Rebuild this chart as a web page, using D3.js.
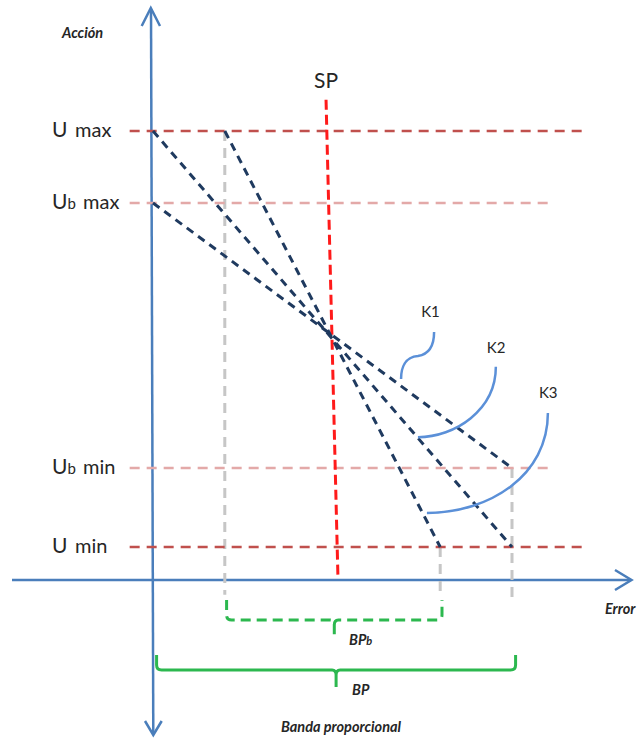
<!DOCTYPE html>
<html>
<head>
<meta charset="utf-8">
<script src="https://cdn.jsdelivr.net/npm/d3@7"></script>
<style>
  html, body { margin: 0; padding: 0; background: #fff; }
  svg { display: block; }
  text { font-family: Lato, "Open Sans", sans-serif; fill: #262626; }
</style>
</head>
<body>
<svg id="chart" width="638" height="739"></svg>
<script>
// ---- Data (error in % of band, action in % of output range) ----
const levelNames   = ["U max", "Ub max", "Ub min", "U min"];
const levelValues  = [100, 82.7, 19, 0];
const levelRightEnd = [120.3, 111.4, 111.4, 120.3];
const levelStrong  = [true, false, false, true];

// three proportional lines, start / end points [error, action]
const lineStarts = [[20, 100], [0, 100], [0, 82.7]];
const lineEnds   = [[80, 0], [100, 0], [100, 19]];

// vertical drop lines down to the error axis [error, action top, action bottom]
const drops = [[20, 100, -11.5], [80, 0, -11.5], [100, 19, -12.7]];

// set point line [error, action] at both ends
const spTop    = [48.2, 107.5];
const spBottom = [51.5, -6.7];

// proportional bands (error range)
const bandNarrow = [20.5, 80.5];
const bandWide   = [1, 101];

// gain annotations: bezier control points [error, action]
const kNames = ["K1", "K2", "K3"];
const k1Curve = [[78.3, 51.7], [78.3, 47.4], [75.8, 46.2], [73.8, 45.9], [70.2, 45.7], [69.1, 43.0], [69.1, 40.4]];
const k2Curve = [[95.5, 43.3], [95.5, 32.9], [84.1, 26.4], [73.8, 26.4]];
const k3Curve = [[110.0, 32.2], [110.0, 17.3], [93.9, 8.2], [76.3, 8.2]];
const kLabelAt = [[74.7, 55.3], [93.0, 46.6], [107.5, 35.8]];

// ---- Scales ----
const x = d3.scaleLinear().domain([0, 100]).range([153, 512]);
const y = d3.scaleLinear().domain([0, 100]).range([547, 131]);

const svg = d3.select("#chart");

const C = {
  axis: "#4a7ebb",
  levelStrong: "#c0504d",
  levelLight: "#e3a9a8",
  navy: "#1f3a5f",
  sp: "#ff1a1a",
  gray: "#c6c6c6",
  green: "#2cb84f",
  arc: "#5b90d8"
};

// ---- Axes ----
const axisY = 580;          // error axis position (px)
const g = svg.append("g");

// action axis (vertical, arrows at both ends)
g.append("line").attr("x1", 151).attr("y1", 9).attr("x2", 153.3).attr("y2", 734)
  .attr("stroke", C.axis).attr("stroke-width", 2.5);
g.append("path").attr("d", "M141.7,26 L150.8,8 L160,26")
  .attr("fill", "none").attr("stroke", C.axis).attr("stroke-width", 2.5).attr("stroke-linejoin", "miter");
g.append("path").attr("d", "M145,721 L153.3,735 L161.7,721")
  .attr("fill", "none").attr("stroke", C.axis).attr("stroke-width", 2.5);

// error axis (horizontal, arrow at right)
g.append("line").attr("x1", 12).attr("y1", axisY).attr("x2", 631).attr("y2", axisY)
  .attr("stroke", C.axis).attr("stroke-width", 2.5);
g.append("path").attr("d", `M615,${axisY - 10} L631.5,${axisY} L615,${axisY + 10}`)
  .attr("fill", "none").attr("stroke", C.axis).attr("stroke-width", 2.5);

// ---- Drop lines ----
svg.append("g").selectAll("line").data(drops).join("line")
  .attr("x1", d => x(d[0])).attr("x2", d => x(d[0]))
  .attr("y1", d => y(d[1])).attr("y2", d => y(d[2]))
  .attr("stroke", C.gray).attr("stroke-width", 3).attr("stroke-dasharray", "10 7");

// ---- Level lines ----
svg.append("g").selectAll("line").data(levelValues).join("line")
  .attr("x1", x(-6.5)).attr("x2", (d, i) => x(levelRightEnd[i]))
  .attr("y1", d => y(d)).attr("y2", d => y(d))
  .attr("stroke", (d, i) => levelStrong[i] ? C.levelStrong : C.levelLight)
  .attr("stroke-width", 2.5).attr("stroke-dasharray", "10 7");

// level labels
const lab = svg.append("g").selectAll("text").data(levelNames).join("text")
  .attr("y", (d, i) => y(levelValues[i]) + 6)
  .attr("font-size", 20);
lab.each(function(d) {
  const t = d3.select(this);
  const parts = d.split(" ");
  t.append("tspan").attr("x", 52).attr("font-size", 21).text("U");
  if (parts[0].length > 1) {
    t.append("tspan").attr("font-size", 15).text(parts[0].slice(1));
    t.append("tspan").attr("x", 83).text(parts[1]);
  } else {
    t.append("tspan").attr("x", 75).text(parts[1]);
  }
});

// ---- Set point ----
svg.append("line")
  .attr("x1", x(spTop[0])).attr("y1", y(spTop[1]))
  .attr("x2", x(spBottom[0])).attr("y2", y(spBottom[1]))
  .attr("stroke", C.sp).attr("stroke-width", 3).attr("stroke-dasharray", "10 5");
svg.append("text").attr("x", x(spTop[0])).attr("y", 88)
  .attr("text-anchor", "middle").attr("font-size", 21).text("SP");

// ---- Proportional lines ----
svg.append("g").selectAll("line").data(lineStarts).join("line")
  .attr("x1", d => x(d[0])).attr("y1", d => y(d[1]))
  .attr("x2", (d, i) => x(lineEnds[i][0])).attr("y2", (d, i) => y(lineEnds[i][1]))
  .attr("stroke", C.navy).attr("stroke-width", 3).attr("stroke-dasharray", "8 6");

// ---- Gain annotations ----
function bezierPath(pts) {
  const p = d3.path();
  p.moveTo(x(pts[0][0]), y(pts[0][1]));
  for (let i = 1; i + 2 < pts.length; i += 3) {
    p.bezierCurveTo(x(pts[i][0]), y(pts[i][1]), x(pts[i + 1][0]), y(pts[i + 1][1]), x(pts[i + 2][0]), y(pts[i + 2][1]));
  }
  return p.toString();
}
svg.append("g").selectAll("path").data([k1Curve, k2Curve, k3Curve]).join("path")
  .attr("d", bezierPath)
  .attr("fill", "none").attr("stroke", C.arc).attr("stroke-width", 2.5);
svg.append("g").selectAll("text").data(kNames).join("text")
  .attr("x", (d, i) => x(kLabelAt[i][0])).attr("y", (d, i) => y(kLabelAt[i][1]))
  .attr("font-size", 15).text(d => d);

// ---- Band braces ----
function brace(x0, x1, top, mid, tip) {
  const xm = (x0 + x1) / 2, r = 5;
  return `M${x0},${top} L${x0},${mid - r} Q${x0},${mid} ${x0 + r},${mid} L${xm - 4},${mid} Q${xm},${mid} ${xm},${mid + 5} L${xm},${tip}` +
         ` M${xm},${mid + 5} Q${xm},${mid} ${xm + 4},${mid} L${x1 - r},${mid} Q${x1},${mid} ${x1},${mid - r} L${x1},${top}`;
}
svg.append("path")
  .attr("d", brace(x(bandNarrow[0]), x(bandNarrow[1]), axisY + 20, axisY + 40, axisY + 60))
  .attr("fill", "none").attr("stroke", C.green).attr("stroke-width", 3).attr("stroke-dasharray", "10 6");
svg.append("path")
  .attr("d", brace(x(bandWide[0]), x(bandWide[1]), axisY + 75, axisY + 90, axisY + 107))
  .attr("fill", "none").attr("stroke", C.green).attr("stroke-width", 3);

// ---- Italic captions ----
const cap = (tx, ty, s, anchor) => svg.append("text").attr("x", tx).attr("y", ty)
  .attr("font-size", 14.5).attr("font-style", "italic").attr("font-weight", "bold")
  .attr("text-anchor", anchor || "start").text(s);
cap(62, 38, "Acción");
cap(605, 614, "Error");
const bpb = cap(349, 645, "BP");
bpb.append("tspan").attr("font-size", 11).text("b");
cap(352, 695, "BP");
cap(341, 732, "Banda proporcional", "middle");
</script>
</body>
</html>
